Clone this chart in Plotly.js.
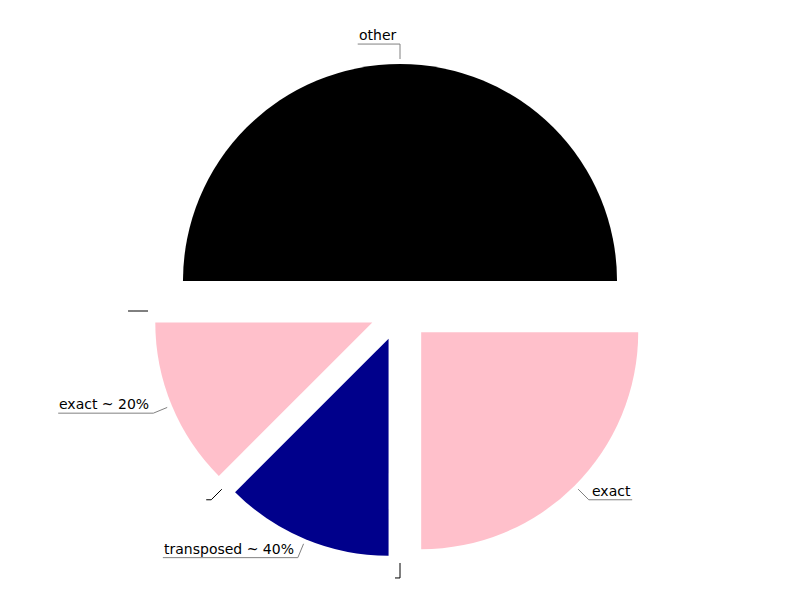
<!DOCTYPE html>
<html><head><meta charset="utf-8">
<script src="https://cdn.plot.ly/plotly-3.0.1.min.js"></script>
<style>html,body{margin:0;padding:0;background:#fff}#chart{width:800px;height:600px}</style>
</head><body><div id="chart"></div>
<script>
// Data
const labels = ['other', '', 'exact ~ 20%', '', 'transposed ~ 40%', '', 'exact'];
const values = [4, 0, 1, 0, 1, 0, 2];
const colors = ['black', 'white', 'pink', 'white', 'darkblue', 'white', 'pink'];

const W = 800, H = 600;
const pull = 0.138;
const domY = [0.07, 0.8933];
const ry = H * (domY[1] - domY[0]) / 2;
const R = ry / (1 + pull);
const cx = W / 2, cy = H * (1 - domY[0]) - ry;
const fontSize = 14;
const ctx = document.createElement('canvas').getContext('2d');
ctx.font = fontSize + 'px "DejaVu Sans"';
const total = values.reduce((a, b) => a + b, 0);
const px2x = x => x / W, py2y = y => 1 - y / H;
const shapes = [], annotations = [];
let start = 0;
labels.forEach((lab, i) => {
  const span = 360 * values[i] / total;
  const mid = (start + span / 2) * Math.PI / 180;
  start += span;
  const c = Math.cos(mid), s = Math.sin(mid);
  const x0 = cx + 1.161 * R * c, y0 = cy - 1.161 * R * s;
  const x1 = cx + 1.230 * R * c, y1 = cy - 1.230 * R * s;
  const right = c > 0.01;
  const w = ctx.measureText(lab).width + 5;
  const x2 = right ? x1 + w : x1 - w;
  const col = lab ? '#808080' : 'black';
  shapes.push({type: 'line', xref: 'paper', yref: 'paper',
    x0: px2x(x0), y0: py2y(y0), x1: px2x(x1), y1: py2y(y1), line: {color: col, width: 1}});
  shapes.push({type: 'line', xref: 'paper', yref: 'paper',
    x0: px2x(x1), y0: py2y(y1), x1: px2x(x2), y1: py2y(y1), line: {color: col, width: 1}});
  if (lab) {
    annotations.push({xref: 'paper', yref: 'paper', x: px2x(x2), y: py2y(y1),
      xanchor: right ? 'right' : 'left', yanchor: 'bottom', showarrow: false,
      text: lab, borderpad: 0, yshift: 0,
      font: {family: 'DejaVu Sans', size: fontSize, color: 'black'}});
  }
});

const trace = {
  type: 'pie',
  labels: labels.map((l, i) => i + ':' + l),
  values: values,
  marker: {colors: colors, line: {width: 0}},
  sort: false,
  direction: 'counterclockwise',
  rotation: -90,
  pull: pull,
  textinfo: 'none',
  hoverinfo: 'none',
  domain: {x: [0, 1], y: domY},
  showlegend: false
};

Plotly.newPlot('chart', [trace], {
  width: W, height: H,
  margin: {l: 0, r: 0, t: 0, b: 0},
  paper_bgcolor: 'white',
  showlegend: false,
  shapes: shapes,
  annotations: annotations
}, {displayModeBar: false, staticPlot: true});
</script>
</body></html>
